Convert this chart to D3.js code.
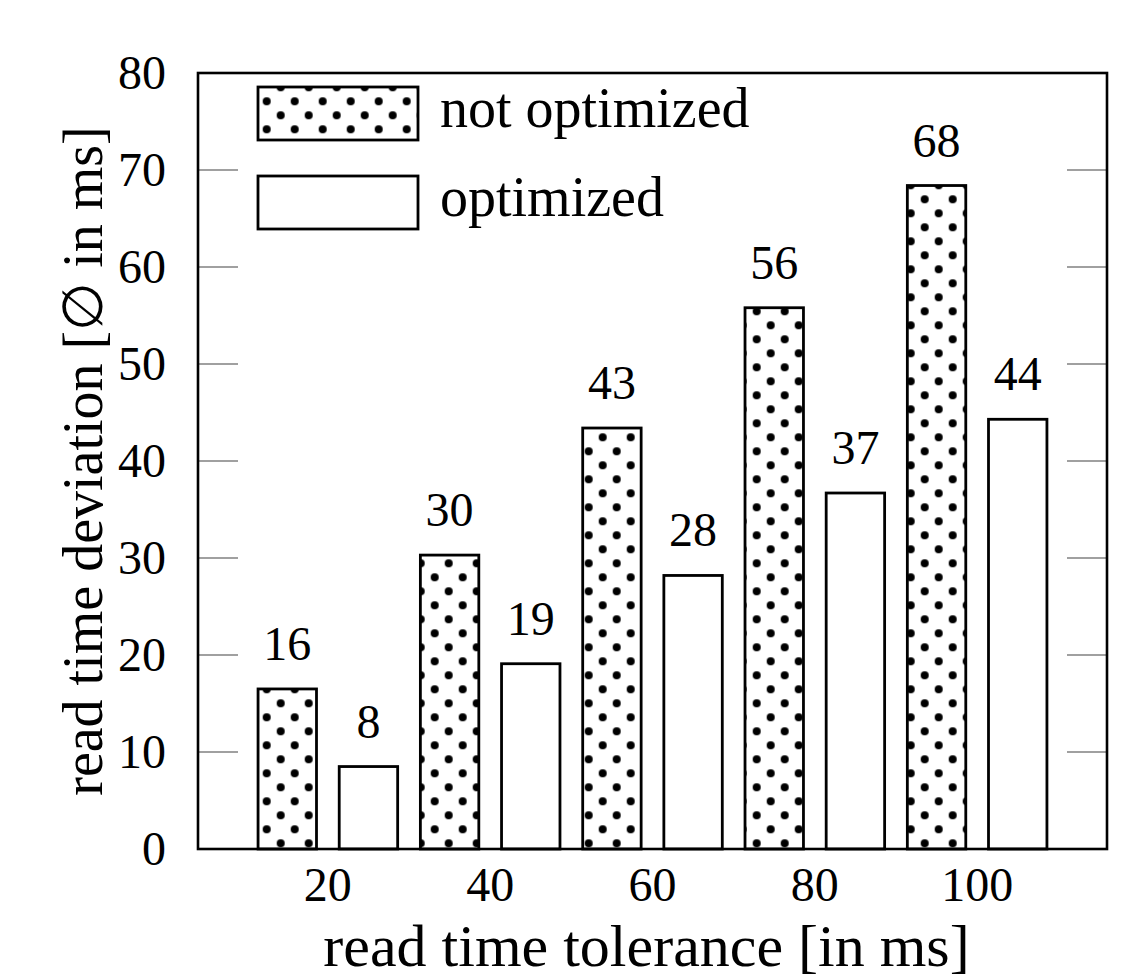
<!DOCTYPE html>
<html>
<head>
<meta charset="utf-8">
<script src="https://cdn.jsdelivr.net/npm/d3@7/dist/d3.min.js"></script>
<style>
  html, body { margin: 0; padding: 0; background: #fff; }
  svg { display: block; }
  text { font-family: "Liberation Serif", "Times New Roman", serif; fill: #000; }
</style>
</head>
<body>
<svg id="chart" width="1145" height="980"></svg>
<script>
// ---- data ----
const categories = [20, 40, 60, 80, 100];
const notOptimized = [16.5, 30.3, 43.4, 55.8, 68.4];
const optimized = [8.5, 19.1, 28.2, 36.7, 44.3];
const notOptimizedLabels = ["16", "30", "43", "56", "68"];
const optimizedLabels = ["8", "19", "28", "37", "44"];
const yTicks = [0, 10, 20, 30, 40, 50, 60, 70, 80];
const seriesNames = ["not optimized", "optimized"];

// ---- layout ----
const plot = { left: 198, right: 1107, top: 73, bottom: 849 };

const svg = d3.select("#chart");

// dot pattern
const defs = svg.append("defs");
const pat = defs.append("pattern")
  .attr("id", "dots")
  .attr("patternUnits", "userSpaceOnUse")
  .attr("x", 266.7).attr("y", 717.3)
  .attr("width", 28).attr("height", 28);
pat.append("rect").attr("width", 28).attr("height", 28).attr("fill", "#fff");
[[0,0],[28,0],[0,28],[28,28],[14,14]].forEach(([cx, cy]) => {
  pat.append("circle").attr("cx", cx).attr("cy", cy).attr("r", 4).attr("fill", "#000");
});

const x = d3.scaleLinear().domain([4, 116]).range([plot.left, plot.right]);
const y = d3.scaleLinear().domain([0, 80]).range([plot.bottom, plot.top]);

const offset = 5;      // data units from category center
const halfW = 3.6;     // half bar width in data units

// ticks (inward, gray) on left and right
const tickLen = 40;
const gTicks = svg.append("g");
yTicks.slice(1, -1).forEach(t => {
  gTicks.append("line")
    .attr("x1", plot.left).attr("x2", plot.left + tickLen)
    .attr("y1", y(t)).attr("y2", y(t))
    .attr("stroke", "#808080").attr("stroke-width", 1.6);
  gTicks.append("line")
    .attr("x1", plot.right - tickLen).attr("x2", plot.right)
    .attr("y1", y(t)).attr("y2", y(t))
    .attr("stroke", "#808080").attr("stroke-width", 1.6);
});

// bars
const gBars = svg.append("g");
categories.forEach((c, i) => {
  const x0 = x(c - offset - halfW), x1 = x(c - offset + halfW);
  gBars.append("rect")
    .attr("x", x0).attr("y", y(notOptimized[i]))
    .attr("width", x1 - x0).attr("height", y(0) - y(notOptimized[i]))
    .attr("fill", "url(#dots)").attr("stroke", "#000").attr("stroke-width", 2.8);
  gBars.append("text")
    .attr("x", (x0 + x1) / 2).attr("y", y(notOptimized[i]) - 29)
    .attr("text-anchor", "middle").attr("font-size", 48)
    .text(notOptimizedLabels[i]);

  const u0 = x(c + offset - halfW), u1 = x(c + offset + halfW);
  gBars.append("rect")
    .attr("x", u0).attr("y", y(optimized[i]))
    .attr("width", u1 - u0).attr("height", y(0) - y(optimized[i]))
    .attr("fill", "#fff").attr("stroke", "#000").attr("stroke-width", 2.8);
  gBars.append("text")
    .attr("x", (u0 + u1) / 2).attr("y", y(optimized[i]) - 29)
    .attr("text-anchor", "middle").attr("font-size", 48)
    .text(optimizedLabels[i]);
});

// frame
svg.append("rect")
  .attr("x", plot.left).attr("y", plot.top)
  .attr("width", plot.right - plot.left).attr("height", plot.bottom - plot.top)
  .attr("fill", "none").attr("stroke", "#000").attr("stroke-width", 2.6);

// y tick labels
const gyl = svg.append("g");
yTicks.forEach(t => {
  gyl.append("text")
    .attr("x", plot.left - 32).attr("y", y(t))
    .attr("dy", "0.34em")
    .attr("text-anchor", "end").attr("font-size", 48)
    .text(t);
});

// x tick labels
const gxl = svg.append("g");
categories.forEach(c => {
  gxl.append("text")
    .attr("x", x(c)).attr("y", 901)
    .attr("text-anchor", "middle").attr("font-size", 48)
    .text(c);
});

// axis titles
svg.append("text")
  .attr("x", (plot.left + plot.right) / 2 - 6).attr("y", 966)
  .attr("text-anchor", "middle").attr("font-size", 60)
  .text("read time tolerance [in ms]");

svg.append("text")
  .attr("transform", `translate(102, ${y(40)}) rotate(-90)`)
  .attr("text-anchor", "middle").attr("font-size", 56)
  .text("read time deviation [\u2205 in ms]");

// legend
const legend = svg.append("g");
const legY = [87, 176];
seriesNames.forEach((name, i) => {
  legend.append("rect")
    .attr("x", 258).attr("y", legY[i])
    .attr("width", 160).attr("height", 53)
    .attr("fill", i === 0 ? "url(#dots)" : "#fff")
    .attr("stroke", "#000").attr("stroke-width", 2.8);
  legend.append("text")
    .attr("x", 440).attr("y", legY[i] + 40)
    .attr("font-size", 56)
    .text(name);
});
</script>
</body>
</html>
